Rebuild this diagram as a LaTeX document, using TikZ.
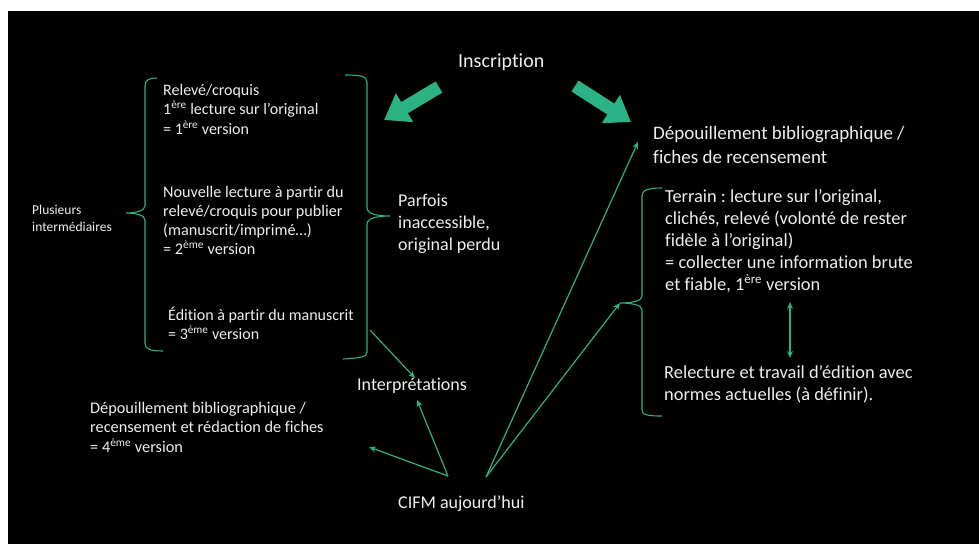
\documentclass[tikz,border=0pt]{standalone}
\usepackage{fontspec}
\setmainfont{Carlito}[Ligatures=NoCommon]
\frenchspacing
\usetikzlibrary{arrows.meta}
\definecolor{tealg}{RGB}{43,178,135}
\definecolor{txtc}{RGB}{238,238,238}
\newcommand{\txtblock}[3]{\fontsize{#1}{#2}\selectfont\begin{tabular}[t]{@{}l@{}}#3\end{tabular}}
\newcommand{\sups}[1]{\textsuperscript{#1}}
\tikzset{
  txt/.style={text=txtc, inner sep=0pt, anchor=base west},
  bracecurve/.style={draw=tealg, line width=1.1pt},
  thin/.style={draw=tealg, line width=1.2pt, -{Stealth[length=7pt,width=6pt]}},
  thinboth/.style={draw=tealg, line width=1.2pt, {Stealth[length=7pt,width=6pt]}-{Stealth[length=7pt,width=6pt]}},
  bigarrow/.style={draw=tealg, line width=13pt, -{Triangle[length=24pt,width=32pt]}}
}
\begin{document}
\begin{tikzpicture}[x=1pt,y=-1pt]
\useasboundingbox (0,0) rectangle (979,544);
\fill[white] (0,0) rectangle (979,544);
\fill[black] (8,11) rectangle (979,544);

% texts
\node[txt] (inscr) at (458,67) {\fontsize{20}{24}\selectfont Inscription};
\node[txt] (rel) at (163,95) {\txtblock{16}{19.5}{Relevé/croquis\\1\sups{ère} lecture sur l’original\\= 1\sups{ère} version}};
\node[txt] (nouv) at (163,197) {\txtblock{16.2}{19}{Nouvelle lecture à partir du\\relevé/croquis pour publier\\(manuscrit/imprimé…)\\= 2\sups{ème} version}};
\node[txt] (edit) at (168,320) {\txtblock{16}{19}{Édition à partir du manuscrit\\= 3\sups{ème} version}};
\node[txt] (plus) at (32,214) {\txtblock{13.5}{17}{Plusieurs\\intermédiaires}};
\node[txt] (parf) at (398,206) {\txtblock{18}{22}{Parfois\\inaccessible,\\original perdu}};
\node[txt] (interp) at (357,390) {\fontsize{18}{22}\selectfont Interprétations};
\node[txt] (cifm) at (398,508) {\fontsize{18}{22}\selectfont CIFM aujourd’hui};
\node[txt] (depl) at (90,413) {\txtblock{16.3}{19.5}{Dépouillement bibliographique /\\recensement et rédaction de fiches\\= 4\sups{ème} version}};
\node[txt] (depr) at (653,139) {\txtblock{19}{24}{Dépouillement bibliographique /\\fiches de recensement}};
\node[txt] (terr) at (665,202) {\txtblock{18.4}{22}{Terrain : lecture sur l’original,\\clichés, relevé (volonté de rester\\fidèle à l’original)\\= collecter une information brute\\et fiable, 1\sups{ère} version}};
\node[txt] (rele) at (664,378) {\txtblock{18.4}{22}{Relecture et travail d’édition avec\\normes actuelles (à définir).}};

% braces
\draw[bracecurve] (157,78) .. controls (149,78) and (145,80) .. (145,86) -- (145,206)
  .. controls (145,211) and (135,213) .. (126,213)
  .. controls (135,213) and (145,215) .. (145,220) -- (145,343)
  .. controls (145,349) and (150,351) .. (163,351);
\draw[bracecurve] (345,75) .. controls (360,75) and (367,76) .. (367,82) -- (367,208)
  .. controls (367,214) and (378,216) .. (390,216)
  .. controls (378,216) and (367,218) .. (367,224) -- (367,352)
  .. controls (367,357) and (360,358) .. (343,359);
\coordinate (terrtip) at (620,303);
\draw[bracecurve] (662,188) .. controls (648,188) and (642,190) .. (642,196) -- (642,296)
  .. controls (642,301) and (632,303) .. (terrtip)
  .. controls (632,303) and (642,305) .. (642,310) -- (642,410)
  .. controls (642,415) and (648,416) .. (662,416);

% thick arrows
\coordinate (bigLs) at (439,87);
\coordinate (bigLe) at (384,120);
\coordinate (bigRs) at (575,86);
\coordinate (bigRe) at (631,122);
\draw[bigarrow] (bigLs) -- (bigLe);
\draw[bigarrow] (bigRs) -- (bigRe);

% thin arrows
\coordinate (editend) at (370,330);
\coordinate (interptop) at (415,378);
\coordinate (interpbot) at (417,400);
\coordinate (cifmL) at (448,476);
\coordinate (cifmR) at (486,477);
\coordinate (depltip) at (369,447);
\coordinate (deprtip) at (638,142);
\coordinate (vtop) at (790,302);
\coordinate (vbot) at (790,358);
\draw[thin] (editend) -- (interptop);
\draw[thin] (cifmL) -- (interpbot);
\draw[thin] (cifmL) -- (depltip);
\draw[thin] (cifmR) -- (deprtip);
\draw[thin] (cifmR) -- (terrtip);
\draw[thinboth] (vtop) -- (vbot);
\end{tikzpicture}
\end{document}
